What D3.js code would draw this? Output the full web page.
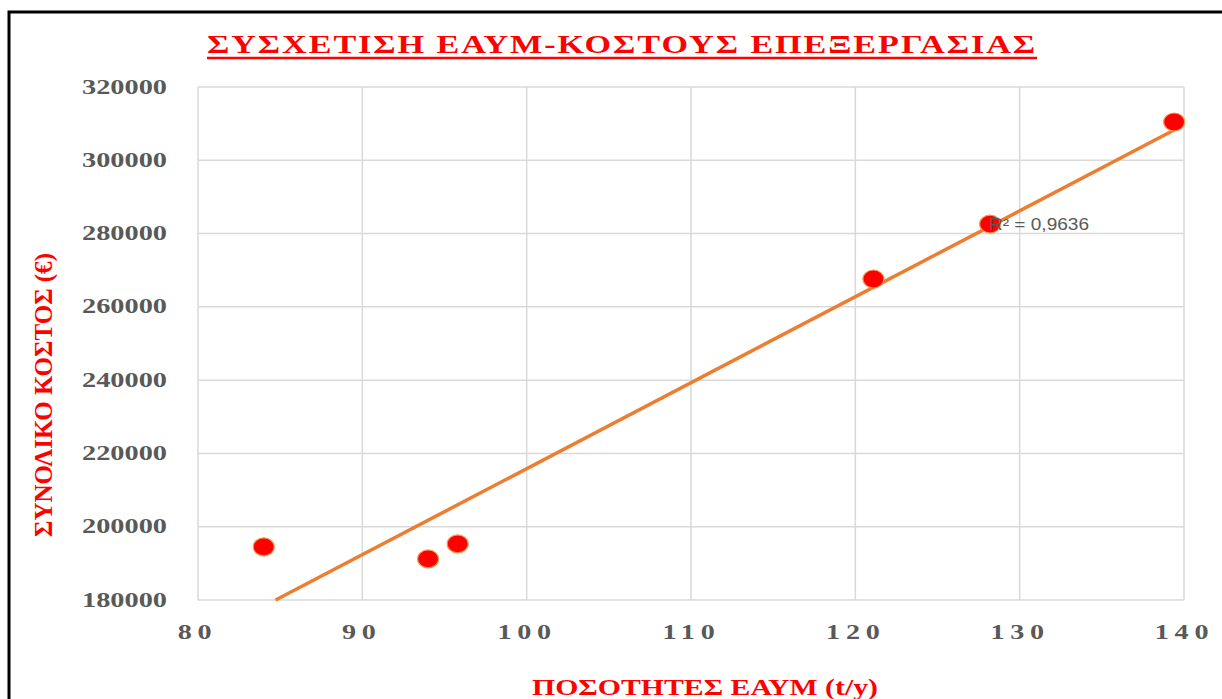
<!DOCTYPE html>
<html>
<head>
<meta charset="utf-8">
<script src="https://cdn.jsdelivr.net/npm/d3@7"></script>
<style>
body { margin:0; background:#fff; }
svg { display:block; }
</style>
</head>
<body>
<svg id="chart" width="1222" height="699"></svg>
<script>
// data
var quantities = [84.0, 94.0, 95.8, 121.1, 128.2, 139.4];
var costs = [194500, 191200, 195300, 267600, 282600, 310450];
var xTicks = [80, 90, 100, 110, 120, 130, 140];
var yTicks = [180000, 200000, 220000, 240000, 260000, 280000, 300000, 320000];
var titleText = "ΣΥΣΧΕΤΙΣΗ ΕΑΥΜ-ΚΟΣΤΟΥΣ ΕΠΕΞΕΡΓΑΣΙΑΣ";
var xTitle = "ΠΟΣΟΤΗΤΕΣ ΕΑΥΜ (t/y)";
var yTitle = "ΣΥΝΟΛΙΚΟ ΚΟΣΤΟΣ (€)";
var r2Label = "R² = 0,9636";

var svg = d3.select("#chart"),
	serif = "'Liberation Serif', 'Times New Roman', serif",
	grey = "#595959",
	red = "#ff0000",
	orange = "#ed7d31";

var x = d3.scaleLinear().domain([80, 140]).range([198, 1184]),
	y = d3.scaleLinear().domain([180000, 320000]).range([600, 87]);

// frame
svg.append("path")
	.attr("d", "M9,699 V12 H1222")
	.attr("fill", "none")
	.attr("stroke", "#000")
	.attr("stroke-width", 3);

// grid
svg.append("g").selectAll("line").data(yTicks).enter().append("line")
	.attr("x1", x(80)).attr("x2", x(140))
	.attr("y1", function(d){ return y(d); }).attr("y2", function(d){ return y(d); })
	.attr("stroke", "#d9d9d9").attr("stroke-width", 1.5);
svg.append("g").selectAll("line").data(xTicks).enter().append("line")
	.attr("y1", y(180000)).attr("y2", y(320000))
	.attr("x1", function(d){ return x(d); }).attr("x2", function(d){ return x(d); })
	.attr("stroke", "#d9d9d9").attr("stroke-width", 1.5);

// axes (labels only)
var yAxis = svg.append("g")
	.attr("transform", "translate(" + (x(80) - 28) + ",0)")
	.call(d3.axisLeft(y).tickValues(yTicks).tickSize(0).tickFormat(d3.format("d")));
yAxis.select(".domain").remove();
yAxis.selectAll("text")
	.attr("font-family", serif).attr("font-weight", "bold").attr("font-size", 20)
	.attr("fill", grey).attr("dy", "0.3em")
	.attr("textLength", 85).attr("lengthAdjust", "spacingAndGlyphs");

var xAxis = svg.append("g")
	.attr("transform", "translate(0," + (y(180000) + 20) + ")")
	.call(d3.axisBottom(x).tickValues(xTicks).tickSize(0));
xAxis.select(".domain").remove();
xAxis.selectAll("text")
	.attr("font-family", serif).attr("font-weight", "bold").attr("font-size", 22)
	.attr("fill", grey).attr("dy", "0.72em")
	.attr("letter-spacing", 4.5)
	.attr("transform", function(d){ return "translate(" + (d < 100 ? -1 : 0) + ",0) scale(1.28,1)"; });

// linear trend line (least squares)
var mx = d3.mean(quantities), my = d3.mean(costs), sxy = 0, sxx = 0;
quantities.forEach(function(q, i){
	sxy += (q - mx) * (costs[i] - my);
	sxx += (q - mx) * (q - mx);
});
var slope = sxy / sxx, icpt = my - slope * mx;
var x0 = Math.max(d3.min(quantities), (180000 - icpt) / slope),
	x1 = d3.max(quantities);
svg.append("line")
	.attr("x1", x(x0)).attr("y1", y(icpt + slope * x0))
	.attr("x2", x(x1)).attr("y2", y(icpt + slope * x1))
	.attr("stroke", orange).attr("stroke-width", 3.5);

// points
svg.append("g").selectAll("ellipse").data(quantities).enter().append("ellipse")
	.attr("cx", function(d){ return x(d); })
	.attr("cy", function(d, i){ return y(costs[i]); })
	.attr("rx", 10.5).attr("ry", 9)
	.attr("fill", red).attr("stroke", "#f39a4f").attr("stroke-width", 1.2);

// R² label
svg.append("text")
	.attr("x", 989).attr("y", 230)
	.attr("font-family", "'Liberation Sans', Arial, sans-serif").attr("font-size", 16)
	.attr("fill", grey)
	.attr("textLength", 100).attr("lengthAdjust", "spacingAndGlyphs")
	.text(r2Label);

// title
svg.append("text")
	.attr("x", 207).attr("y", 53)
	.attr("font-family", serif).attr("font-weight", "bold").attr("font-size", 26)
	.attr("fill", red)
	.attr("letter-spacing", 1.5)
	.attr("textLength", 830).attr("lengthAdjust", "spacingAndGlyphs")
	.text(titleText);
svg.append("line")
	.attr("x1", 207).attr("x2", 1037).attr("y1", 58).attr("y2", 58)
	.attr("stroke", red).attr("stroke-width", 2.5);

// axis titles
svg.append("text")
	.attr("x", 705).attr("y", 695)
	.attr("text-anchor", "middle")
	.attr("font-family", serif).attr("font-weight", "bold").attr("font-size", 24)
	.attr("fill", red)
	.attr("textLength", 346).attr("lengthAdjust", "spacingAndGlyphs")
	.text(xTitle);
svg.append("text")
	.attr("transform", "translate(52,395) rotate(-90)")
	.attr("text-anchor", "middle")
	.attr("font-family", serif).attr("font-weight", "bold").attr("font-size", 26)
	.attr("fill", red)
	.attr("textLength", 284).attr("lengthAdjust", "spacingAndGlyphs")
	.text(yTitle);
</script>
</body>
</html>
